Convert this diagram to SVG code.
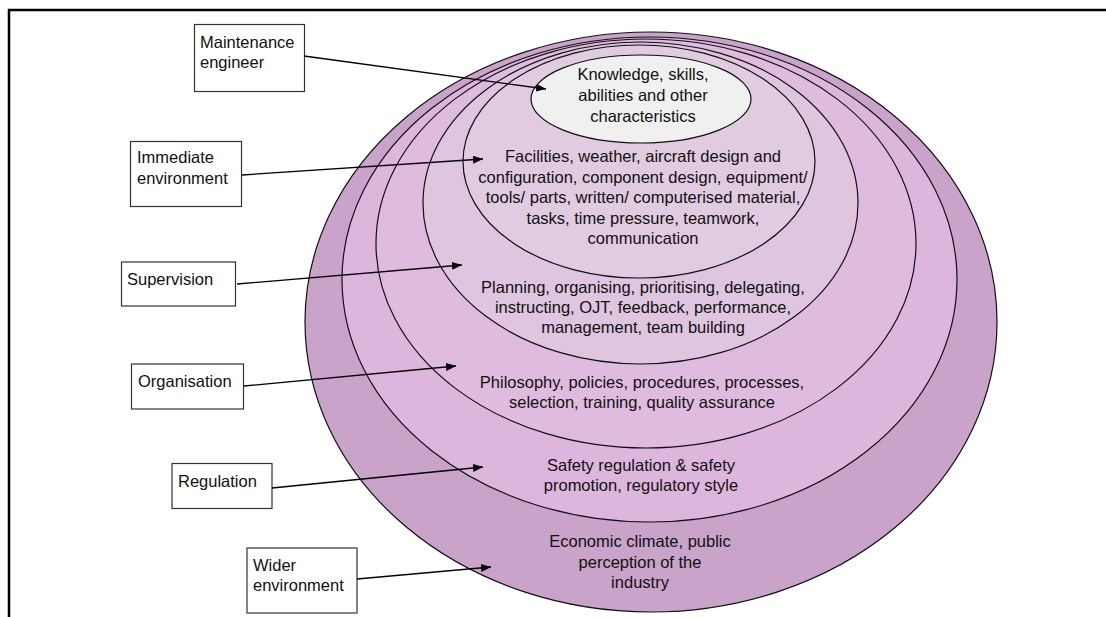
<svg xmlns="http://www.w3.org/2000/svg" width="1106" height="617" viewBox="0 0 1106 617">
<defs>
<style>
text{font-family:"Liberation Sans",Arial,sans-serif;font-size:16.5px;fill:#111}
.c{text-anchor:middle}
.ring{stroke:#111;stroke-width:1.2}
.box{fill:#fff;stroke:#333;stroke-width:1.2}
.con{stroke:#000;stroke-width:1.3;fill:none;marker-end:url(#ah)}
</style>
<marker id="ah" viewBox="0 0 10 8" refX="10" refY="4" markerWidth="10" markerHeight="8" markerUnits="userSpaceOnUse" orient="auto">
<path d="M0,0L10,4L0,8z" fill="#000"/>
</marker>
</defs>
<rect width="1106" height="617" fill="#fff"/>
<path d="M9,617V10H1106" fill="none" stroke="#000" stroke-width="2.5"/>

<g id="ring-wider">
<ellipse class="ring" cx="651" cy="322" rx="346" ry="290" fill="#c9a3c9"/>
</g>
<g id="ring-regulation">
<ellipse class="ring" cx="649.5" cy="279.5" rx="307.5" ry="242.5" fill="#ddb6dd"/>
</g>
<g id="ring-organisation">
<ellipse class="ring" cx="646" cy="243.5" rx="270" ry="204.5" fill="#dfbcdf"/>
</g>
<g id="ring-supervision">
<ellipse class="ring" cx="640.5" cy="203" rx="217.5" ry="161" fill="#dfc5df"/>
</g>
<g id="ring-immediate">
<ellipse class="ring" cx="639" cy="161.5" rx="176" ry="116.5" fill="#e1cbe1"/>
</g>
<g id="ring-ksao">
<ellipse class="ring" cx="641" cy="99" rx="110" ry="44" fill="#f0f0f0"/>
<text class="c" x="643" y="80">Knowledge, skills,</text>
<text class="c" x="643" y="101">abilities and other</text>
<text class="c" x="643" y="122">characteristics</text>
</g>

<g id="ring-texts">
<text class="c" x="643" y="162">Facilities, weather, aircraft design and</text>
<text class="c" x="643" y="182.5">configuration, component design, equipment/</text>
<text class="c" x="643" y="203">tools/ parts, written/ computerised material,</text>
<text class="c" x="643" y="223.5">tasks, time pressure, teamwork,</text>
<text class="c" x="643" y="244">communication</text>

<text class="c" x="643" y="293">Planning, organising, prioritising, delegating,</text>
<text class="c" x="643" y="313">instructing, OJT, feedback, performance,</text>
<text class="c" x="643" y="333">management, team building</text>

<text class="c" x="642" y="388">Philosophy, policies, procedures, processes,</text>
<text class="c" x="642" y="408">selection, training, quality assurance</text>

<text class="c" x="641" y="471">Safety regulation &amp; safety</text>
<text class="c" x="641" y="490.5">promotion, regulatory style</text>

<text class="c" x="640" y="547">Economic climate, public</text>
<text class="c" x="640" y="567.5">perception of the</text>
<text class="c" x="640" y="587.5">industry</text>
</g>

<g id="node-maintenance">
<rect class="box" x="194.5" y="24.5" width="110" height="67"/>
<text x="200" y="48">Maintenance</text>
<text x="200" y="67.5">engineer</text>
</g>
<g id="node-immediate">
<rect class="box" x="130.5" y="141.5" width="111" height="65"/>
<text x="137" y="163">Immediate</text>
<text x="137" y="184">environment</text>
</g>
<g id="node-supervision">
<rect class="box" x="121.5" y="262" width="114" height="44"/>
<text x="127" y="285">Supervision</text>
</g>
<g id="node-organisation">
<rect class="box" x="131.5" y="364" width="112" height="45"/>
<text x="138" y="387">Organisation</text>
</g>
<g id="node-regulation">
<rect class="box" x="172" y="463.5" width="100" height="45"/>
<text x="178" y="487">Regulation</text>
</g>
<g id="node-wider">
<rect class="box" x="247" y="548" width="110" height="65"/>
<text x="253" y="571">Wider</text>
<text x="253" y="591">environment</text>
</g>

<g id="connectors">
<line class="con" x1="304" y1="56" x2="546" y2="89"/>
<line class="con" x1="242" y1="175" x2="483" y2="159"/>
<line class="con" x1="237" y1="284" x2="462" y2="265"/>
<line class="con" x1="244" y1="386" x2="456" y2="366"/>
<line class="con" x1="272" y1="488" x2="483" y2="467"/>
<line class="con" x1="357" y1="579" x2="491" y2="567"/>
</g>
</svg>
